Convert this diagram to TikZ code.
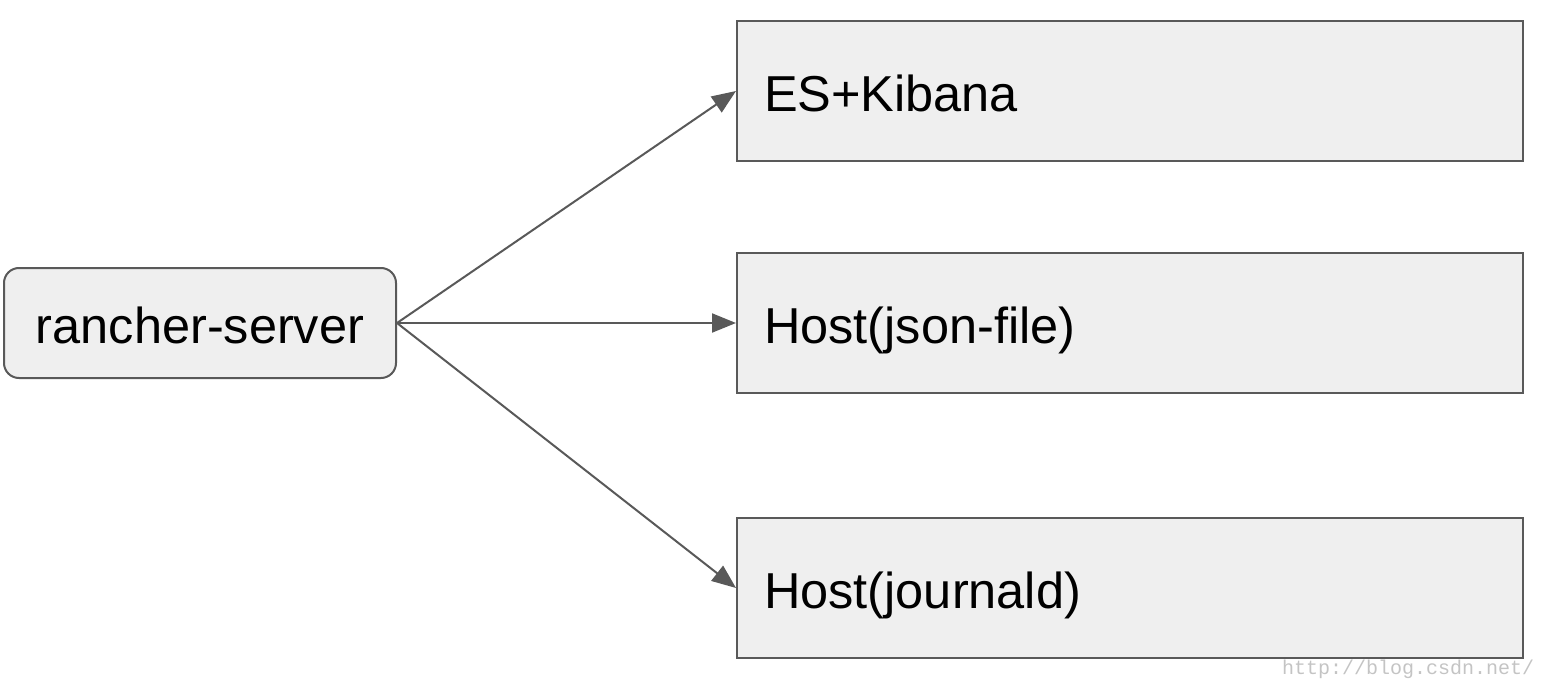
\documentclass[tikz,border=0pt]{standalone}
\usepackage{fontspec}
\setmainfont{Liberation Sans}
\newfontfamily\wmfont{Liberation Mono}
\usetikzlibrary{arrows.meta}
\definecolor{boxfill}{HTML}{EFEFEF}
\definecolor{edge}{HTML}{595959}
\definecolor{wm}{HTML}{C4C4C4}
\begin{document}
\begin{tikzpicture}[x=1pt,y=-1pt,
  srcbox/.style={draw=edge, line width=2pt, fill=boxfill, rounded corners=15pt,
    minimum width=392pt, minimum height=110pt, inner sep=0pt,
    text height=40pt, text depth=0pt,
    font=\fontsize{50.5}{60}\selectfont},
  tgtbox/.style={draw=edge, line width=2pt, fill=boxfill,
    text width=732pt, inner xsep=27pt, inner ysep=0pt, minimum height=140pt,
    text height=40pt, text depth=0pt,
    align=left, font=\fontsize{50.5}{60}\selectfont},
  conn/.style={draw=edge, line width=2pt, -{Triangle[length=24pt,width=19pt]}},
  wmark/.style={text=wm, font=\wmfont\fontsize{20}{24}\selectfont, inner sep=0pt}
]
\useasboundingbox (0,0) rectangle (1548,688);
\node[srcbox] (rs) at (200,323) {rancher-server};
\node[tgtbox] (es) at (1130,91) {ES+Kibana};
\node[tgtbox] (hj) at (1130,323) {Host(json-file)};
\node[tgtbox] (hd) at (1130,588) {Host(journald)};
\draw[conn] (rs.east) -- (es.west);
\draw[conn] (rs.east) -- (hj.west);
\draw[conn] (rs.east) -- (hd.west);
\node[wmark, anchor=west] (wm) at (1282,669) {http://blog.csdn.net/};
\end{tikzpicture}
\end{document}
